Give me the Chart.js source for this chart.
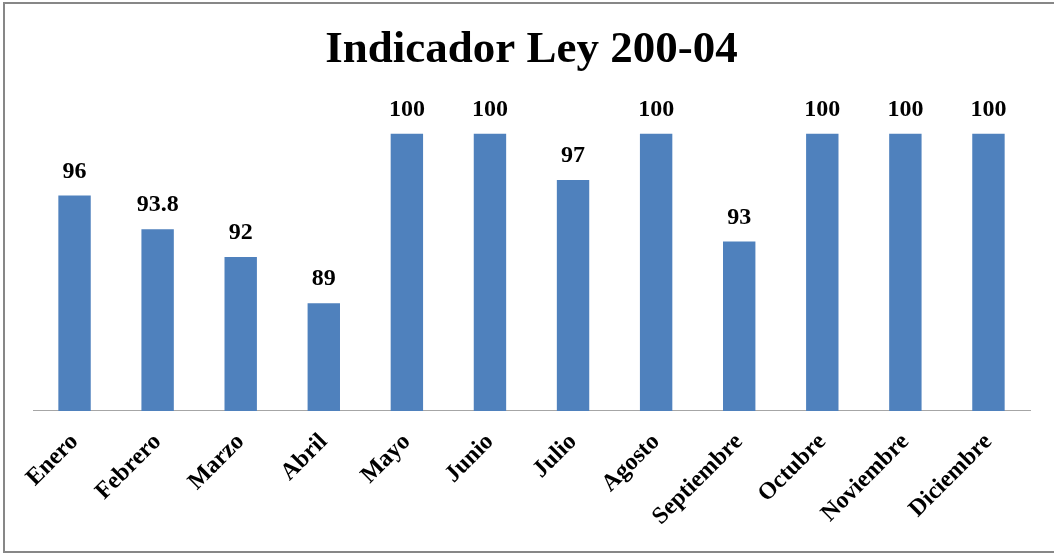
<!DOCTYPE html>
<html>
<head>
<meta charset="utf-8">
<script src="https://cdn.jsdelivr.net/npm/chart.js@4"></script>
<style>
  html, body { margin: 0; padding: 0; background: #fff; overflow: hidden; width: 1054px; height: 554px; }
  #wrap { position: absolute; left: 3px; top: 2px; width: 1060px; height: 551px; border: 2px solid #878787; box-sizing: border-box; }
  canvas { position: absolute; left: 0; top: 0; }
</style>
</head>
<body>
<div id="wrap"></div>
<canvas id="c" width="1054" height="554"></canvas>
<script>
const titleText = "Indicador Ley 200-04";
const categories = ["Enero","Febrero","Marzo","Abril","Mayo","Junio","Julio","Agosto","Septiembre","Octubre","Noviembre","Diciembre"];
const values = [96, 93.8, 92, 89, 100, 100, 97, 100, 93, 100, 100, 100];
const valueLabels = ["96","93.8","92","89","100","100","97","100","93","100","100","100"];

const serif = "'Liberation Serif', 'DejaVu Serif', serif";

const barLabels = {
  id: 'barLabels',
  afterDatasetsDraw(chart) {
    const ctx = chart.ctx;
    const meta = chart.getDatasetMeta(0);
    ctx.save();
    ctx.font = "bold 24px " + serif;
    ctx.fillStyle = "#000";
    ctx.textAlign = "center";
    ctx.textBaseline = "bottom";
    meta.data.forEach((bar, i) => {
      ctx.fillText(valueLabels[i], bar.x, bar.y - 12);
    });
    ctx.restore();
  }
};

new Chart(document.getElementById('c'), {
  type: 'bar',
  data: {
    labels: categories,
    datasets: [{
      data: values,
      backgroundColor: '#4F81BD',
      borderWidth: 0,
      categoryPercentage: 1,
      barPercentage: 0.39
    }]
  },
  options: {
    responsive: false,
    animation: false,
    layout: { padding: { left: 33, right: 24, top: 0, bottom: 6 } },
    plugins: {
      legend: { display: false },
      tooltip: { enabled: false },
      title: {
        display: true,
        text: titleText,
        color: '#000',
        font: { family: serif, size: 45, weight: 'bold' },
        padding: { top: 23, bottom: 26 }
      }
    },
    scales: {
      x: {
        grid: { display: false, drawTicks: false },
        border: { display: true, color: '#A6A6A6', width: 1 },
        ticks: {
          color: '#000',
          font: { family: serif, size: 24, weight: 'bold' },
          maxRotation: 45, minRotation: 45,
          padding: 17,
          autoSkip: false
        }
      },
      y: {
        display: false,
        min: 82,
        max: 102
      }
    }
  },
  plugins: [barLabels]
});
</script>
</body>
</html>
